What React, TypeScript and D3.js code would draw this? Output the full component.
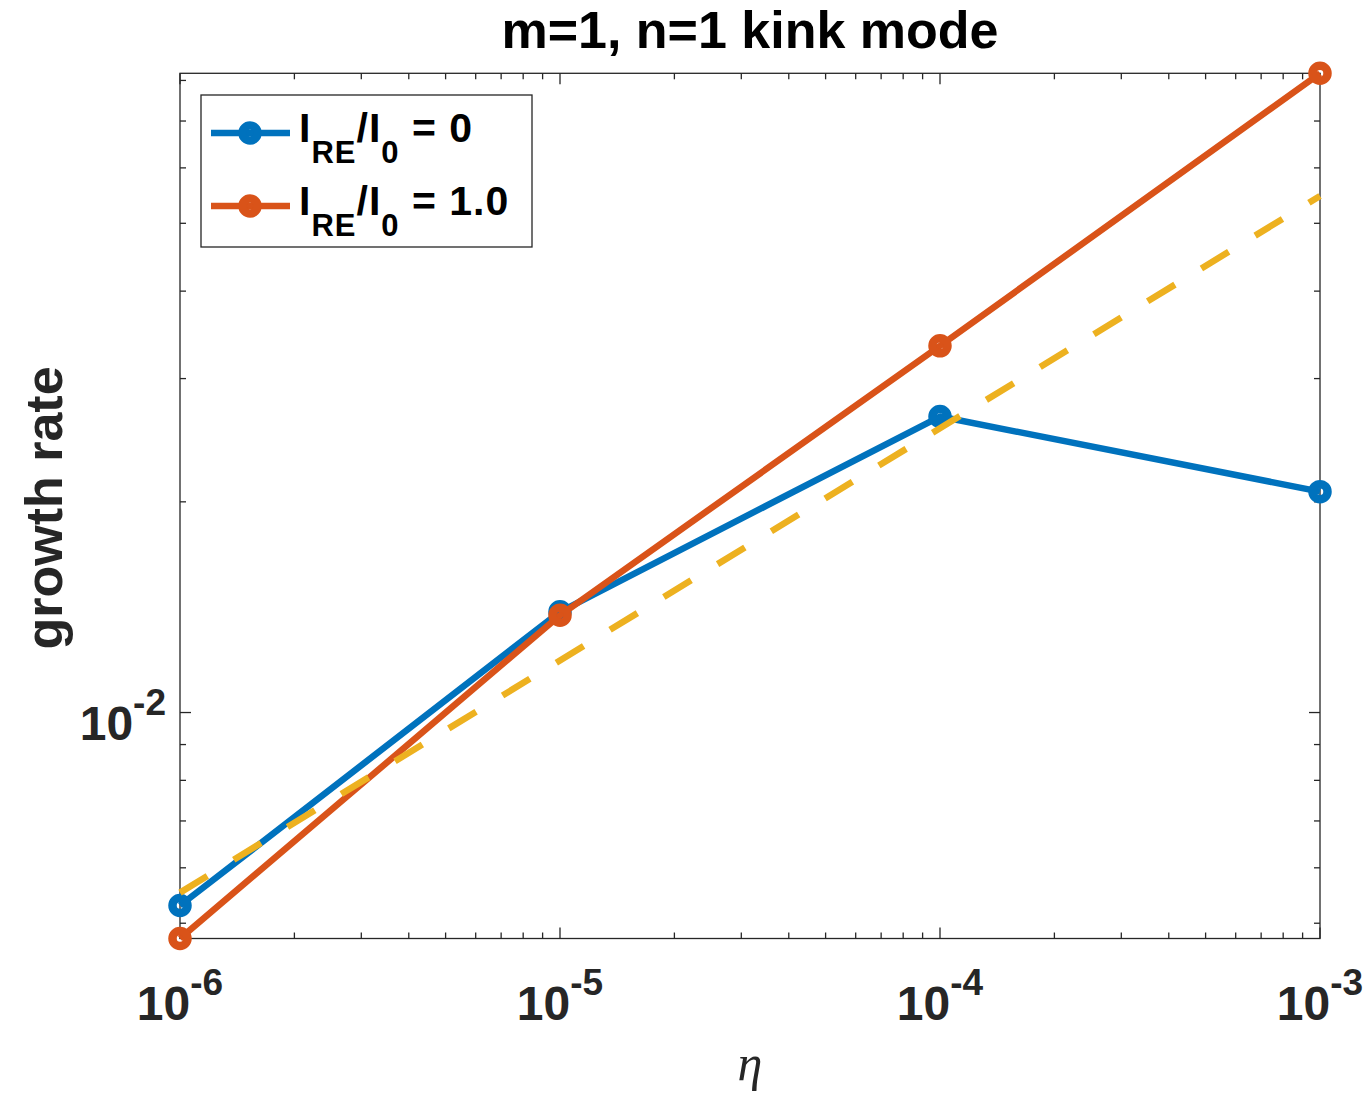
import React from "react";
import * as d3 from "d3";

// ---- data ----
const etaValues = [1e-6, 1e-5, 1e-4, 1e-3];
const rateNoRE = [0.0053, 0.01393, 0.02648, 0.02068];
const rateRE = [0.004755, 0.01377, 0.03341, 0.0819];
const fitEta = [1e-6, 1e-3];
const fitRate = [0.00553, 0.0547];
const xMajorTicks = [1e-6, 1e-5, 1e-4, 1e-3];
const xTickExponents = ["-6", "-5", "-4", "-3"];
const yMajorTicks = [1e-2];
const yTickExponents = ["-2"];
const legendLabels = [" = 0", " = 1.0"];
const titleText = "m=1, n=1 kink mode";
const yLabelText = "growth rate";
const xLabelText = "η";

const W = 1365;
const H = 1093;
const margin = { left: 180, right: 1320, top: 73.3, bottom: 938.5 };
const BLUE = "#0072BD";
const ORANGE = "#D95319";
const YELLOW = "#EDB120";
const AX = "#262626";
const FONT = "'Liberation Sans', Arial, Helvetica, sans-serif";

export default function App() {
  const x = d3.scaleLog().domain([1e-6, 1e-3]).range([margin.left, margin.right]);
  const yDomain = [d3.min(rateRE) as number, d3.max(rateRE) as number];
  const y = d3.scaleLog().domain(yDomain).range([margin.bottom, margin.top]);

  const line = d3
    .line<[number, number]>()
    .x((d) => x(d[0]))
    .y((d) => y(d[1]));

  const blueData = etaValues.map((e, i) => [e, rateNoRE[i]] as [number, number]);
  const orangeData = etaValues.map((e, i) => [e, rateRE[i]] as [number, number]);
  const fitData = fitEta.map((e, i) => [e, fitRate[i]] as [number, number]);

  // minor ticks
  const xMinor: number[] = [];
  for (let p = -6; p < -3; p++) {
    for (let k = 2; k <= 9; k++) xMinor.push(k * Math.pow(10, p));
  }
  const yMinor: number[] = [];
  for (let p = -3; p <= -2; p++) {
    for (let k = 1; k <= 9; k++) {
      const v = k * Math.pow(10, p);
      if (v >= yDomain[0] && v <= yDomain[1] && v !== 1e-2) yMinor.push(v);
    }
  }

  const majorLen = 11;
  const minorLen = 6;
  const sw = 1.3;
  const lw = 6.5;

  const marker = (cx: number, cy: number, color: string, key: string) => (
    <circle key={key} cx={cx} cy={cy} r={7.5} fill="none" stroke={color} strokeWidth={8.5} />
  );

  const legendRow = (ty: number, color: string, label: string, key: string) => (
    <g key={key}>
      <line x1={211} x2={290} y1={ty - 9} y2={ty - 9} stroke={color} strokeWidth={lw} />
      {marker(250, ty - 9, color, key + "m")}
      <text
        x={299}
        y={ty}
        fontFamily={FONT}
        fontWeight="bold"
        fontSize={41}
        letterSpacing={1}
        fill="#000"
      >
        I
        <tspan dy={21} fontSize={31}>RE</tspan>
        <tspan dy={-21} fontSize={41}>/I</tspan>
        <tspan dy={21} fontSize={31}>0</tspan>
        <tspan dy={-21} fontSize={41}>{label}</tspan>
      </text>
    </g>
  );

  return (
    <svg
      width={W}
      height={H}
      style={{ position: "absolute", left: 0, top: 0, display: "block", background: "#fff" }}
    >
      <rect x={0} y={0} width={W} height={H} fill="#fff" />

      {/* axes box */}
      <rect
        x={margin.left}
        y={margin.top}
        width={margin.right - margin.left}
        height={margin.bottom - margin.top}
        fill="none"
        stroke={AX}
        strokeWidth={sw}
      />

      {/* x ticks */}
      {xMajorTicks.map((t, i) => (
        <g key={"xM" + i}>
          <line x1={x(t)} x2={x(t)} y1={margin.bottom} y2={margin.bottom - majorLen} stroke={AX} strokeWidth={sw} />
          <line x1={x(t)} x2={x(t)} y1={margin.top} y2={margin.top + majorLen} stroke={AX} strokeWidth={sw} />
          <text
            x={x(t)}
            y={1020}
            textAnchor="middle"
            fontFamily={FONT}
            fontWeight="bold"
            fontSize={48}
            fill={AX}
          >
            10
            <tspan dy={-25} fontSize={37}>{xTickExponents[i]}</tspan>
          </text>
        </g>
      ))}
      {xMinor.map((t, i) => (
        <g key={"xm" + i}>
          <line x1={x(t)} x2={x(t)} y1={margin.bottom} y2={margin.bottom - minorLen} stroke={AX} strokeWidth={sw} />
          <line x1={x(t)} x2={x(t)} y1={margin.top} y2={margin.top + minorLen} stroke={AX} strokeWidth={sw} />
        </g>
      ))}

      {/* y ticks */}
      {yMajorTicks.map((t, i) => (
        <g key={"yM" + i}>
          <line x1={margin.left} x2={margin.left + majorLen} y1={y(t)} y2={y(t)} stroke={AX} strokeWidth={sw} />
          <line x1={margin.right} x2={margin.right - majorLen} y1={y(t)} y2={y(t)} stroke={AX} strokeWidth={sw} />
          <text
            x={166}
            y={y(t) + 27}
            textAnchor="end"
            fontFamily={FONT}
            fontWeight="bold"
            fontSize={48}
            fill={AX}
          >
            10
            <tspan dy={-25} fontSize={37}>{yTickExponents[i]}</tspan>
          </text>
        </g>
      ))}
      {yMinor.map((t, i) => (
        <g key={"ym" + i}>
          <line x1={margin.left} x2={margin.left + minorLen} y1={y(t)} y2={y(t)} stroke={AX} strokeWidth={sw} />
          <line x1={margin.right} x2={margin.right - minorLen} y1={y(t)} y2={y(t)} stroke={AX} strokeWidth={sw} />
        </g>
      ))}

      {/* data lines */}
      <path d={line(blueData) || ""} fill="none" stroke={BLUE} strokeWidth={lw} strokeLinejoin="round" />
      {blueData.map((d, i) => marker(x(d[0]), y(d[1]), BLUE, "bm" + i))}
      <path d={line(orangeData) || ""} fill="none" stroke={ORANGE} strokeWidth={lw} strokeLinejoin="round" />
      {orangeData.map((d, i) => marker(x(d[0]), y(d[1]), ORANGE, "om" + i))}
      <path d={line(fitData) || ""} fill="none" stroke={YELLOW} strokeWidth={lw} strokeDasharray="32 31" />

      {/* legend */}
      <rect x={201} y={95} width={331} height={152} fill="#fff" stroke={AX} strokeWidth={sw} />
      {legendRow(142, BLUE, legendLabels[0], "l0")}
      {legendRow(215, ORANGE, legendLabels[1], "l1")}

      {/* title */}
      <text x={750} y={48} textAnchor="middle" fontFamily={FONT} fontWeight="bold" fontSize={52} fill="#000">
        {titleText}
      </text>

      {/* y label */}
      <text
        transform={`translate(62, 508) rotate(-90)`}
        textAnchor="middle"
        fontFamily={FONT}
        fontWeight="bold"
        fontSize={52}
        fill={AX}
      >
        {yLabelText}
      </text>

      {/* x label */}
      <text
        x={750}
        y={1080}
        textAnchor="middle"
        fontFamily="'Liberation Serif', 'Times New Roman', serif"
        fontStyle="italic"
        fontSize={50}
        fill={AX}
      >
        {xLabelText}
      </text>
    </svg>
  );
}
